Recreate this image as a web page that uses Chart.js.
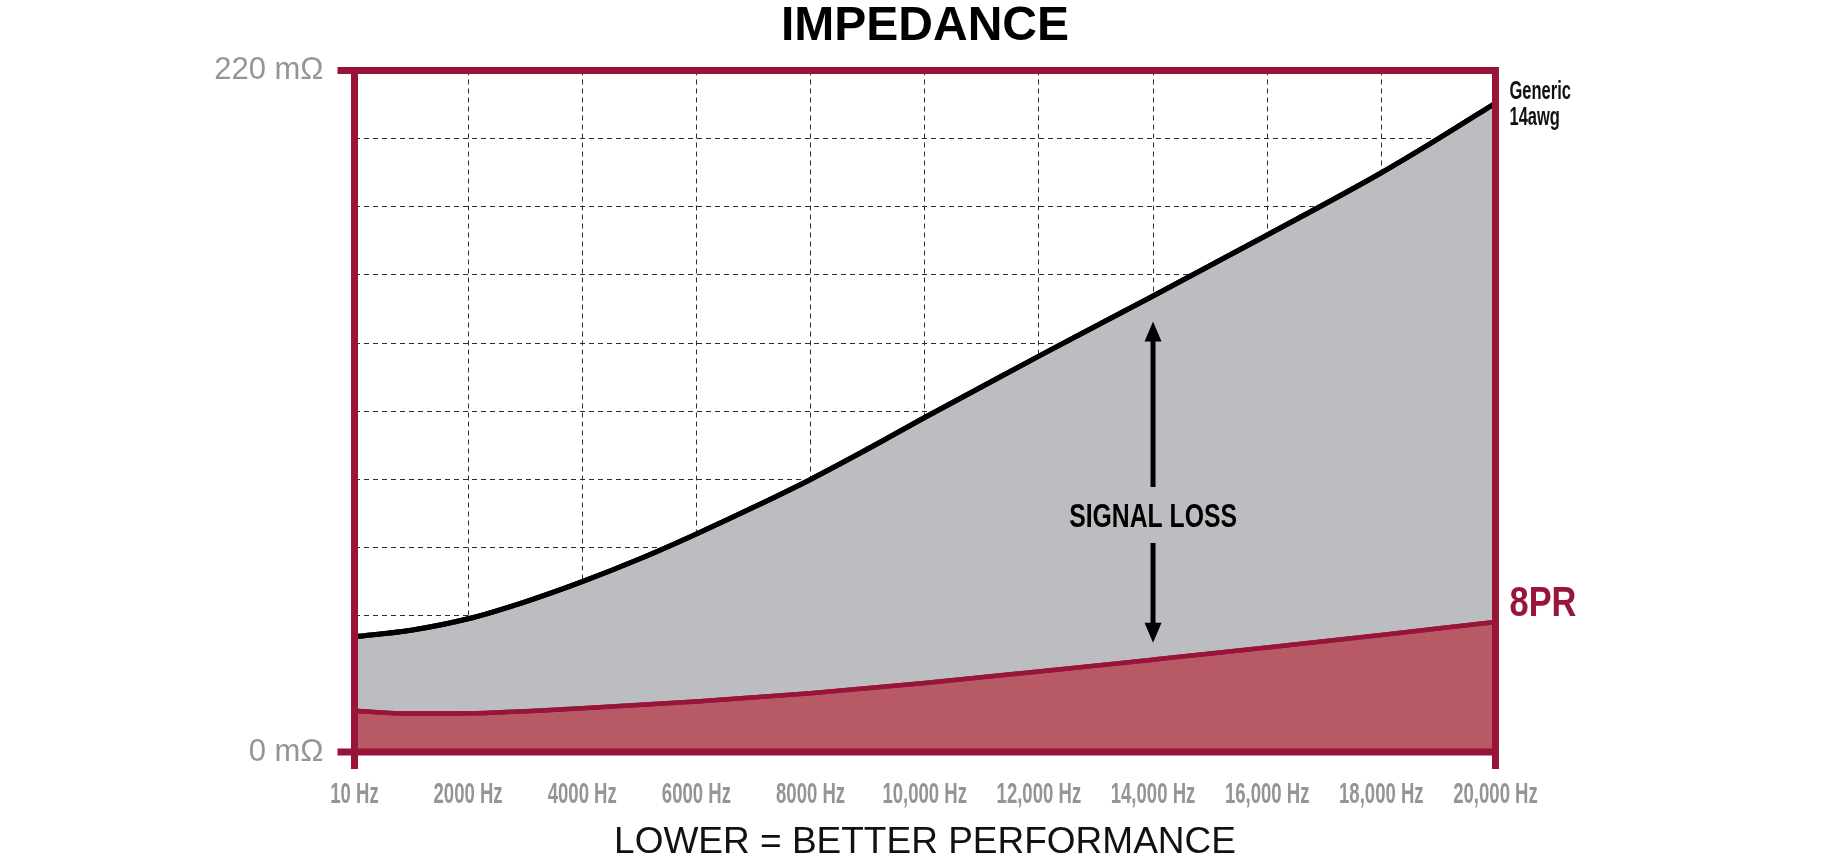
<!DOCTYPE html>
<html><head><meta charset="utf-8">
<script src="https://cdn.jsdelivr.net/npm/chart.js@4.4.1/dist/chart.umd.min.js"></script>
<style>html,body{margin:0;padding:0;background:#fff;}canvas{display:block}</style>
</head><body>
<canvas id="c" width="1830" height="860"></canvas>
<script>
// ---------- data ----------
const titleText = 'IMPEDANCE';
const bottomText = 'LOWER = BETTER PERFORMANCE';
const xTickValues = [10, 2000, 4000, 6000, 8000, 10000, 12000, 14000, 16000, 18000, 20000];
const xTickLabels = ['10 Hz', '2000 Hz', '4000 Hz', '6000 Hz', '8000 Hz', '10,000 Hz', '12,000 Hz', '14,000 Hz', '16,000 Hz', '18,000 Hz', '20,000 Hz'];
const yTickValues = [0, 22, 44, 66, 88, 110, 132, 154, 176, 198, 220];
const yTickLabels = ['0 mΩ', '', '', '', '', '', '', '', '', '', '220 mΩ'];

const genericName = ['Generic', '14awg'];
const genericFreq = [10, 1000, 2000, 3000, 4000, 5000, 6000, 7000, 8000, 9000, 10000, 11000, 12000, 13000, 14000, 16000, 18000, 19000, 20000];
const genericImp  = [37.2, 39.3, 43.0, 48.5, 55.0, 62.3, 70.4, 79.0, 88.0, 97.8, 108.0, 117.9, 127.8, 137.5, 147.2, 166.9, 187.0, 198.0, 209.5];

const pr8Name = '8PR';
const pr8Freq = [10, 1000, 2000, 4000, 6000, 8000, 10000, 12000, 14000, 16000, 18000, 20000];
const pr8Imp  = [13.3, 12.4, 12.5, 14.1, 16.3, 19.0, 22.3, 26.0, 29.8, 33.7, 37.8, 42.0];

const signalLossLabel = 'SIGNAL LOSS';
const signalLossFreq = 14000;
const signalLossRange = [139, 35.3];   // arrow tips (mΩ)
const signalLossCenter = 76.5;         // label centre (mΩ)

// ---------- styles ----------
const RED = '#981539';
const RED_FILL = '#b85a66';
const GRAY_FILL = '#bcbdc0';
const LABEL_GRAY = '#939598';
const GRID = '#2e2e2e';
const FONT = '"Liberation Sans", Arial, sans-serif';

function squeezedText(ctx, text, x, y, font, sx, align, color) {
  ctx.save();
  ctx.font = font;
  ctx.fillStyle = color;
  ctx.textAlign = align;
  ctx.textBaseline = 'alphabetic';
  ctx.translate(x, y);
  ctx.scale(sx, 1);
  ctx.fillText(text, 0, 0);
  ctx.restore();
}

const decor = {
  id: 'decor',
  afterDraw(chart) {
    const { ctx, chartArea: a, scales: { x, y } } = chart;
    // redraw line strokes over the dashed grid
    ctx.save();
    ctx.beginPath();
    ctx.rect(a.left, a.top - 10, a.right - a.left, a.bottom - a.top + 20);
    ctx.clip();
    for (let i = chart.data.datasets.length - 1; i >= 0; i--) {
      chart.getDatasetMeta(i).dataset.draw(ctx, a);
    }
    ctx.restore();

    // frame with end ticks
    const x0 = x.getPixelForValue(xTickValues[0]);
    const x1 = x.getPixelForValue(xTickValues[xTickValues.length - 1]);
    const y0 = y.getPixelForValue(yTickValues[0]);
    const y1 = y.getPixelForValue(yTickValues[yTickValues.length - 1]);
    const t = 17, h = 3.5;
    ctx.save();
    ctx.strokeStyle = RED; ctx.lineWidth = 7; ctx.lineCap = 'butt';
    ctx.beginPath();
    ctx.moveTo(x0 - t, y1); ctx.lineTo(x1 + h, y1);
    ctx.moveTo(x0 - t, y0); ctx.lineTo(x1 + h, y0);
    ctx.moveTo(x0, y1 - h); ctx.lineTo(x0, y0 + t);
    ctx.moveTo(x1, y1 - h); ctx.lineTo(x1, y0 + t);
    ctx.stroke();
    ctx.restore();

    // x tick labels (condensed)
    xTickValues.forEach((v, i) => {
      squeezedText(ctx, xTickLabels[i], x.getPixelForValue(v), y0 + 51,
        'bold 29px ' + FONT, 0.64, 'center', LABEL_GRAY);
    });

    // signal loss arrow
    const ax = x.getPixelForValue(signalLossFreq);
    const aTop = y.getPixelForValue(signalLossRange[0]);
    const aBot = y.getPixelForValue(signalLossRange[1]);
    const aMid = y.getPixelForValue(signalLossCenter);
    const headL = 20, headW = 8.5, gap = 28;
    ctx.save();
    ctx.fillStyle = '#000'; ctx.strokeStyle = '#000'; ctx.lineWidth = 5;
    ctx.beginPath();
    ctx.moveTo(ax, aTop + headL - 2); ctx.lineTo(ax, aMid - gap);
    ctx.moveTo(ax, aMid + gap); ctx.lineTo(ax, aBot - headL + 2);
    ctx.stroke();
    ctx.beginPath();
    ctx.moveTo(ax, aTop); ctx.lineTo(ax - headW, aTop + headL); ctx.lineTo(ax + headW, aTop + headL); ctx.closePath();
    ctx.moveTo(ax, aBot); ctx.lineTo(ax - headW, aBot - headL); ctx.lineTo(ax + headW, aBot - headL); ctx.closePath();
    ctx.fill();
    ctx.restore();
    squeezedText(ctx, signalLossLabel, ax, aMid + 12, 'bold 33px ' + FONT, 0.75, 'center', '#000');

    // series labels
    const gEnd = y.getPixelForValue(genericImp[genericImp.length - 1]);
    const pEnd = y.getPixelForValue(pr8Imp[pr8Imp.length - 1]);
    squeezedText(ctx, genericName[0], x1 + 14, gEnd - 4.4, 'bold 25px ' + FONT, 0.66, 'left', '#111');
    squeezedText(ctx, genericName[1], x1 + 14, gEnd + 22.3, 'bold 25px ' + FONT, 0.66, 'left', '#111');
    squeezedText(ctx, pr8Name, x1 + 14, pEnd - 5.7, 'bold 43px ' + FONT, 0.80, 'left', RED);

    // title and bottom caption
    const cx = (a.left + a.right) / 2;
    ctx.save();
    ctx.textAlign = 'center'; ctx.textBaseline = 'alphabetic';
    ctx.fillStyle = '#000';
    ctx.font = 'bold 48px ' + FONT;
    ctx.fillText(titleText, cx, 39.5);
    ctx.fillStyle = '#111';
    ctx.font = '37px ' + FONT;
    ctx.fillText(bottomText, cx, 853);
    ctx.restore();
  }
};

const edgeTransparent = (vals) => (c) =>
  (c.index === 0 || c.index === vals.length - 1) ? 'rgba(0,0,0,0)' : GRID;

new Chart(document.getElementById('c'), {
  type: 'line',
  data: {
    datasets: [
      {
        label: pr8Name,
        data: pr8Freq.map((f, i) => ({ x: f, y: pr8Imp[i] })),
        borderColor: RED, borderWidth: 4.5,
        backgroundColor: RED_FILL, fill: 'origin',
        pointRadius: 0, pointHoverRadius: 0,
        cubicInterpolationMode: 'monotone'
      },
      {
        label: genericName.join(' '),
        data: genericFreq.map((f, i) => ({ x: f, y: genericImp[i] })),
        borderColor: '#000', borderWidth: 5,
        backgroundColor: GRAY_FILL, fill: 'origin',
        pointRadius: 0, pointHoverRadius: 0,
        cubicInterpolationMode: 'monotone'
      }
    ]
  },
  options: {
    responsive: false,
    animation: false,
    devicePixelRatio: 1,
    events: [],
    layout: { padding: { left: 204.5, right: 334.5, top: 70.5, bottom: 48 } },
    plugins: { legend: { display: false }, tooltip: { enabled: false }, title: { display: false } },
    scales: {
      x: {
        type: 'linear', min: xTickValues[0], max: xTickValues[xTickValues.length - 1],
        z: 1,
        afterBuildTicks: (s) => { s.ticks = xTickValues.map(v => ({ value: v })); },
        afterFit: (s) => { s.height = 60; },
        ticks: { display: false, autoSkip: false, maxRotation: 0, minRotation: 0 },
        grid: { color: edgeTransparent(xTickValues), lineWidth: 1, tickLength: 16, tickColor: 'rgba(0,0,0,0)' },
        border: { display: false, dash: [5, 4] }
      },
      y: {
        min: yTickValues[0], max: yTickValues[yTickValues.length - 1],
        z: 1,
        afterBuildTicks: (s) => { s.ticks = yTickValues.map(v => ({ value: v })); },
        afterFit: (s) => { s.width = 150; },
        ticks: {
          autoSkip: false, padding: 15,
          color: LABEL_GRAY,
          font: { family: FONT, size: 31 },
          callback: (v, i) => yTickLabels[i]
        },
        grid: { color: edgeTransparent(yTickValues), lineWidth: 1, tickLength: 16, tickColor: 'rgba(0,0,0,0)' },
        border: { display: false, dash: [5, 4] }
      }
    }
  },
  plugins: [decor]
});
</script>
</body></html>
